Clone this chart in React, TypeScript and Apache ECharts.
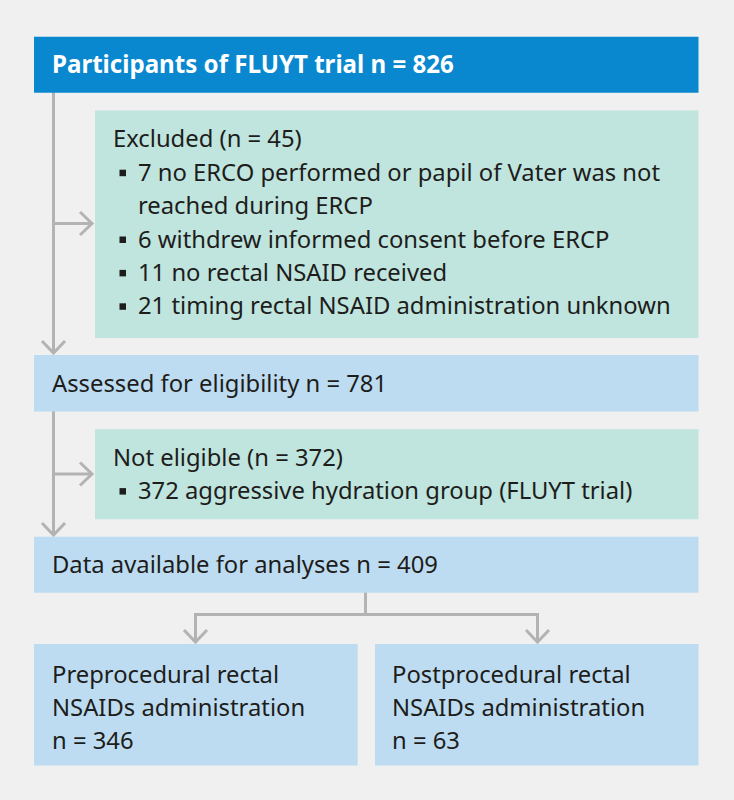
import React, { useEffect, useRef } from "react";
import * as echarts from "echarts";

// ---- Data (texts of the flow chart) ----
const headerText = "Participants of FLUYT trial n = 826";
const excludedTitle = "Excluded (n = 45)";
const excludedItems: string[][] = [
  ["7 no ERCO performed or papil of Vater was not", "reached during ERCP"],
  ["6 withdrew informed consent before ERCP"],
  ["11 no rectal NSAID received"],
  ["21 timing rectal NSAID administration unknown"],
];
const assessedText = "Assessed for eligibility n = 781";
const notEligibleTitle = "Not eligible (n = 372)";
const notEligibleItems: string[][] = [["372 aggressive hydration group (FLUYT trial)"]];
const dataAvailableText = "Data available for analyses n = 409";
const groupLabels: string[][] = [
  ["Preprocedural rectal", "NSAIDs administration", "n = 346"],
  ["Postprocedural rectal", "NSAIDs administration", "n = 63"],
];

// ---- Styling ----
const BG = "#eff0ef";
const HEADER_BLUE = "#0a88cf";
const LIGHT_BLUE = "#bddcf1";
const TEAL = "#c0e4de";
const LINE = "#b3b3b3";
const TEXT = "#1d1d1b";
const FONT = "'Noto Sans', 'DejaVu Sans', sans-serif";
const FS = 23.8;
const FS_HEAD = 24.1;
const LH = 33.4;

function txt(text: string, x: number, y: number, extra: any = {}) {
  return {
    type: "text",
    x,
    y,
    silent: true,
    style: {
      text,
      fill: extra.fill || TEXT,
      font: `${extra.bold ? "bold " : ""}${extra.bold ? FS_HEAD : FS}px ${FONT}`,
      align: "left",
      verticalAlign: "middle",
    },
  };
}

function box(x: number, y: number, w: number, h: number, fill: string) {
  return { type: "rect", silent: true, shape: { x, y, width: w, height: h }, style: { fill } };
}

function seg(points: number[][]) {
  return {
    type: "polyline",
    silent: true,
    shape: { points },
    style: { stroke: LINE, lineWidth: 3, fill: null, lineJoin: "miter" },
  };
}

function arrowDown(x: number, tipY: number) {
  return seg([
    [x - 11.5, tipY - 12],
    [x, tipY],
    [x + 11.5, tipY - 12],
  ]);
}
function arrowRight(tipX: number, y: number) {
  return seg([
    [tipX - 12, y - 11.5],
    [tipX, y],
    [tipX - 12, y + 11.5],
  ]);
}

function bulletList(title: string, items: string[][], titleY: number, elements: any[]) {
  elements.push(txt(title, 113, titleY));
  let y = titleY + LH;
  items.forEach((lines) => {
    elements.push({
      type: "rect",
      silent: true,
      shape: { x: 119.5, y: y - 2, width: 6.5, height: 6.5 },
      style: { fill: TEXT },
    });
    lines.forEach((l) => {
      elements.push(txt(l, 138, y));
      y += LH;
    });
  });
}

function buildElements() {
  const el: any[] = [];
  const L = 34,
    R = 698.5,
    W = R - L;
  const trunkX = 53.5;

  // connectors
  el.push(seg([[trunkX, 92], [trunkX, 353]]));
  el.push(arrowDown(trunkX, 353));
  el.push(seg([[trunkX, 223.5], [92, 223.5]]));
  el.push(arrowRight(92, 223.5));
  el.push(seg([[trunkX, 411], [trunkX, 535]]));
  el.push(arrowDown(trunkX, 535));
  el.push(seg([[trunkX, 474], [92, 474]]));
  el.push(arrowRight(92, 474));
  el.push(seg([[365.5, 592], [365.5, 614.5]]));
  el.push(seg([[195.5, 642], [195.5, 614.5], [537.5, 614.5], [537.5, 642]]));
  el.push(arrowDown(195.5, 642));
  el.push(arrowDown(537.5, 642));

  // boxes
  el.push(box(L, 36.7, W, 56, HEADER_BLUE));
  el.push(box(95, 110.5, R - 95, 227.5, TEAL));
  el.push(box(L, 355, W, 56.5, LIGHT_BLUE));
  el.push(box(95, 429.3, R - 95, 90, TEAL));
  el.push(box(L, 536.7, W, 56, LIGHT_BLUE));
  el.push(box(L, 644, 357.7 - L, 121.5, LIGHT_BLUE));
  el.push(box(375, 644, R - 375, 121.5, LIGHT_BLUE));

  // texts
  el.push(txt(headerText, 52, 63.5, { bold: true, fill: "#ffffff" }));
  bulletList(excludedTitle, excludedItems, 138.3, el);
  el.push(txt(assessedText, 52, 383));
  bulletList(notEligibleTitle, notEligibleItems, 456.7, el);
  el.push(txt(dataAvailableText, 52, 564));
  const gx = [52, 392];
  groupLabels.forEach((lines, gi) => {
    lines.forEach((l, li) => el.push(txt(l, gx[gi], 673.5 + li * LH)));
  });
  return el;
}

export default function App() {
  const ref = useRef<HTMLDivElement>(null);
  useEffect(() => {
    if (!ref.current) return;
    const chart = echarts.init(ref.current, null, { renderer: "svg" });
    chart.setOption({
      animation: false,
      backgroundColor: BG,
      graphic: { elements: buildElements() },
    });
    return () => chart.dispose();
  }, []);
  return (
    <div
      ref={ref}
      style={{ position: "absolute", left: 0, top: 0, width: 734, height: 800 }}
    />
  );
}
